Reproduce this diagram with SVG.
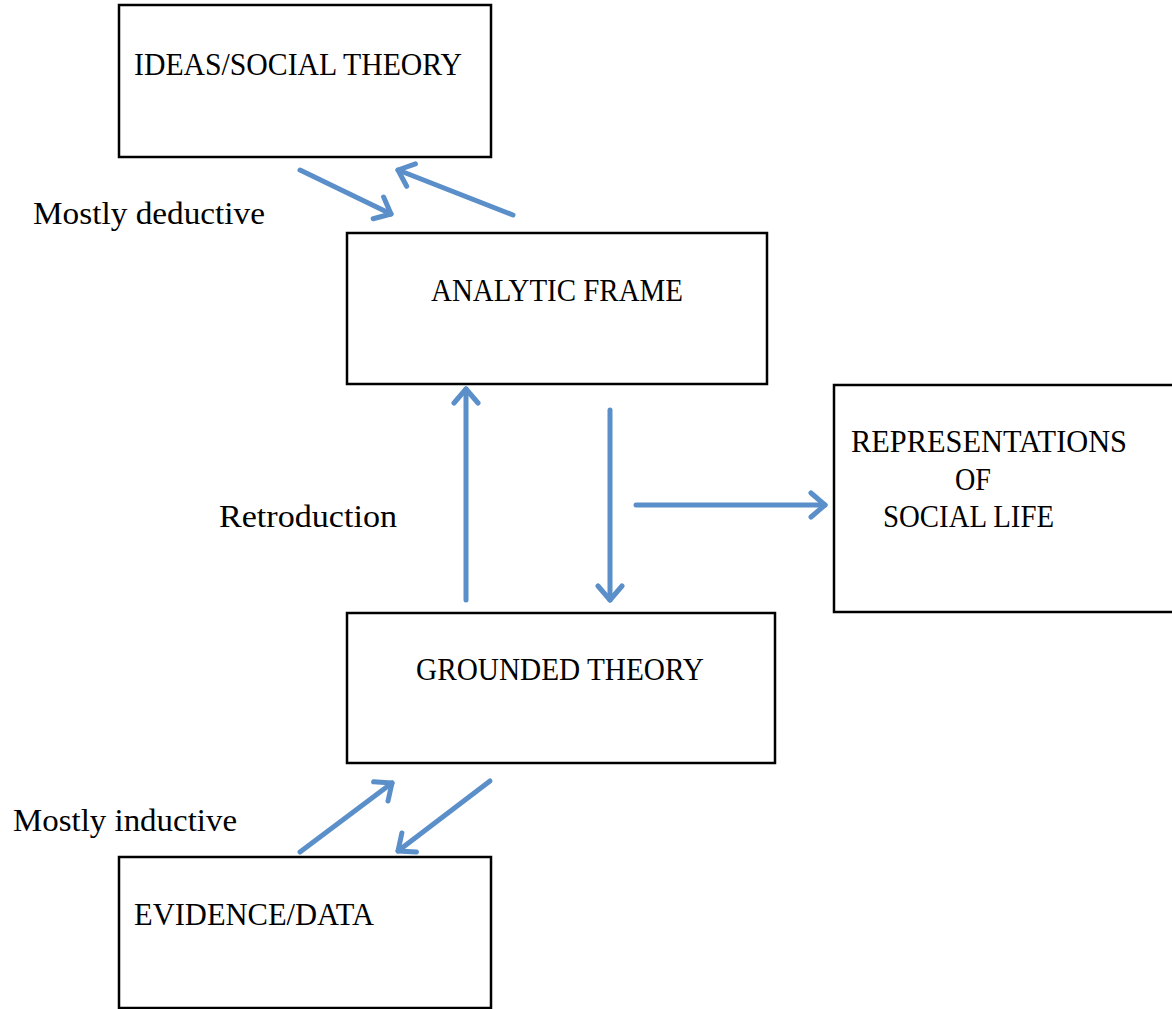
<svg xmlns="http://www.w3.org/2000/svg" width="1172" height="1009" viewBox="0 0 1172 1009">
<style>
.box{fill:#fff;stroke:#000;stroke-width:2.5}
.t{font-family:"Liberation Serif","DejaVu Serif",serif;font-size:32px;fill:#000}
.c{fill:none;stroke:#5b8fc9;stroke-width:5;stroke-linecap:round;stroke-linejoin:round}
</style>
<defs>
<marker id="ah" markerUnits="userSpaceOnUse" markerWidth="30" markerHeight="30" viewBox="-20 -15 30 30" refX="0" refY="0" orient="auto">
<path d="M-14,-12 L0,0 L-14,12" fill="none" stroke="#5b8fc9" stroke-width="5" stroke-linecap="round" stroke-linejoin="round"/>
</marker>
</defs>
<rect width="1172" height="1009" fill="#fff"/>
<g id="ideas"><rect class="box" x="119" y="5" width="372" height="152"/><text class="t" x="134" y="75" textLength="328" lengthAdjust="spacingAndGlyphs">IDEAS/SOCIAL THEORY</text></g>
<g id="analytic"><rect class="box" x="347" y="233" width="420" height="151"/><text class="t" x="431" y="301" textLength="252" lengthAdjust="spacingAndGlyphs">ANALYTIC FRAME</text></g>
<g id="representations"><rect class="box" x="834" y="385" width="340" height="227"/><text class="t" x="851" y="452" textLength="276" lengthAdjust="spacingAndGlyphs">REPRESENTATIONS</text><text class="t" x="955" y="490" textLength="36" lengthAdjust="spacingAndGlyphs">OF</text><text class="t" x="883" y="527" textLength="171" lengthAdjust="spacingAndGlyphs">SOCIAL LIFE</text></g>
<g id="grounded"><rect class="box" x="347" y="613" width="428" height="150"/><text class="t" x="416" y="680" textLength="288" lengthAdjust="spacingAndGlyphs">GROUNDED THEORY</text></g>
<g id="evidence"><rect class="box" x="119" y="857" width="372" height="151"/><text class="t" x="134" y="925" textLength="240" lengthAdjust="spacingAndGlyphs">EVIDENCE/DATA</text></g>
<g id="labels">
<text class="t" x="33" y="224" textLength="232" lengthAdjust="spacingAndGlyphs">Mostly deductive</text>
<text class="t" x="219" y="527" textLength="178" lengthAdjust="spacingAndGlyphs">Retroduction</text>
<text class="t" x="13" y="831" textLength="224" lengthAdjust="spacingAndGlyphs">Mostly inductive</text>
</g>
<g id="connectors">
<line class="c" x1="300" y1="170" x2="391" y2="214" marker-end="url(#ah)"/>
<line class="c" x1="513" y1="215" x2="398" y2="170" marker-end="url(#ah)"/>
<line class="c" x1="466" y1="600" x2="466" y2="389" marker-end="url(#ah)"/>
<line class="c" x1="610" y1="410" x2="610" y2="600" marker-end="url(#ah)"/>
<line class="c" x1="636" y1="505" x2="825" y2="505" marker-end="url(#ah)"/>
<line class="c" x1="300" y1="852" x2="392" y2="783" marker-end="url(#ah)"/>
<line class="c" x1="490" y1="781" x2="398" y2="851" marker-end="url(#ah)"/>
</g>
</svg>
